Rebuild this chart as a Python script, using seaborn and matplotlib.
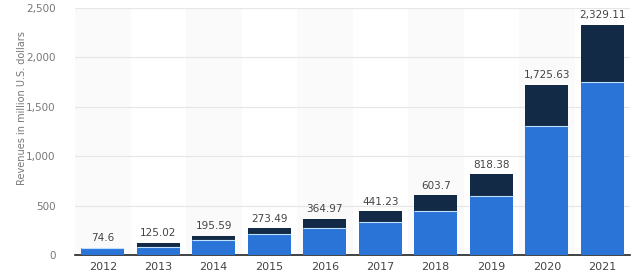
import matplotlib
matplotlib.use("Agg")
import matplotlib.pyplot as plt
import seaborn as sns
import pandas as pd
import numpy as np

years = ["2012", "2013", "2014", "2015", "2016", "2017", "2018", "2019", "2020", "2021"]
totals = [74.6, 125.02, 195.59, 273.49, 364.97, 441.23, 603.7, 818.38, 1725.63, 2329.11]
total_labels = ["74.6", "125.02", "195.59", "273.49", "364.97", "441.23", "603.7", "818.38", "1,725.63", "2,329.11"]
blue_part = [74.6, 85, 152, 209, 270, 334, 445, 597, 1305, 1754]
y_ticks = [0, 500, 1000, 1500, 2000, 2500]
y_tick_labels = ["0", "500", "1,000", "1,500", "2,000", "2,500"]

sns.set_theme(style="white")
plt.rcParams['font.family'] = ['DejaVu Sans']

fig = plt.figure(figsize=(6.41, 2.73), dpi=100)
ax = fig.add_axes([75/641, 18/273, 555/641, 247/273])

df_total = pd.DataFrame({"year": years, "value": totals})
df_blue = pd.DataFrame({"year": years, "value": blue_part})

dark = "#132a46"
blue = "#2a74d8"

sns.barplot(data=df_total, x="year", y="value", color=dark, width=0.78,
            saturation=1, ax=ax, zorder=3, edgecolor="none")
sns.barplot(data=df_blue, x="year", y="value", color=blue, width=0.78,
            saturation=1, ax=ax, zorder=4, edgecolor="none")

# thin light separator at top of blue part
bw = 0.78
for i, b in enumerate(blue_part):
    ax.hlines(b, i - bw/2, i + bw/2, color="#bfe0ff", lw=0.8, zorder=5)

for i, (t, lab) in enumerate(zip(totals, total_labels)):
    ax.text(i, t + 45, lab, ha="center", va="bottom", fontsize=7.5, color="#444444")

ax.set_xlim(-0.5, 9.5)
ax.set_ylim(0, 2500)
ax.set_yticks(y_ticks)
ax.set_yticklabels(y_tick_labels)
ax.grid(axis="y", color="#e6e6e6", lw=0.8, zorder=0)
ax.set_axisbelow(True)

# faint alternating vertical bands
for i in range(0, 10, 2):
    ax.axvspan(i - 0.5, i + 0.5, color="#fafafa", zorder=0, lw=0)

for s in ["top", "right", "left"]:
    ax.spines[s].set_visible(False)
ax.spines["bottom"].set_color("#222222")
ax.spines["bottom"].set_linewidth(1.2)

ax.tick_params(axis="x", labelsize=8, colors="#444444", length=0, pad=5)
ax.tick_params(axis="y", labelsize=7.5, colors="#777777", length=0, pad=14)
ax.set_xlabel("")
ax.set_ylabel("")

fig.text(22/641, (273-108)/273, "Revenues in million U.S. dollars", rotation=90,
         ha="center", va="center", fontsize=7, color="#777777")

fig.savefig("out.png", dpi=100)
